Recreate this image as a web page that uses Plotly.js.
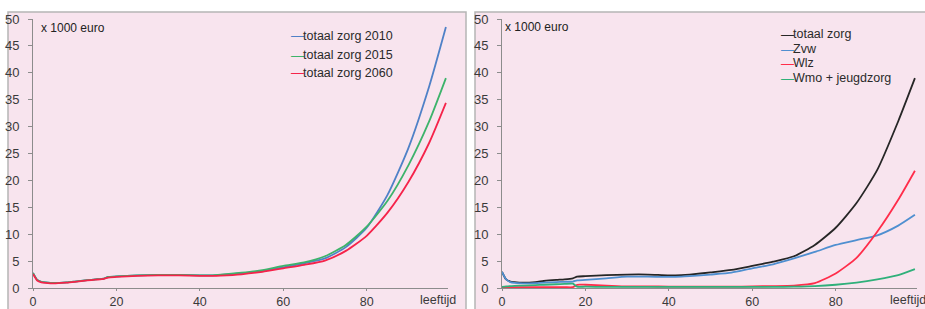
<!DOCTYPE html>
<html>
<head>
<meta charset="utf-8">
<script src="https://cdn.plot.ly/plotly-3.0.1.min.js"></script>
<style>html,body{margin:0;padding:0;background:#fff;}#chart{width:925px;height:309px;}</style>
</head>
<body>
<div id="chart"></div>
<script>
// ---- data (x 1000 euro per age) ----
const ages = [0,1,2,3,5,8,10,13,15,17,18,20,25,30,35,40,43,45,50,55,60,65,70,75,80,85,90,95,99];

const leftNames = ["totaal zorg 2010","totaal zorg 2015","totaal zorg 2060"];
const zorg2010 = [2.8,1.5,1.15,1.05,0.95,1.05,1.2,1.45,1.6,1.75,2.05,2.15,2.35,2.45,2.45,2.35,2.35,2.45,2.75,3.15,3.85,4.6,5.5,7.6,11.2,17.3,26,37.5,48.5];
const zorg2015 = [2.8,1.5,1.15,1.05,0.95,1.05,1.2,1.45,1.6,1.75,2.05,2.15,2.35,2.45,2.45,2.35,2.35,2.5,2.85,3.3,4.1,4.75,5.9,8.0,11.4,16.2,22.8,31,39];
const zorg2060 = [2.6,1.4,1.05,0.95,0.85,1.0,1.15,1.4,1.55,1.7,1.95,2.05,2.25,2.35,2.35,2.25,2.25,2.3,2.55,3.0,3.65,4.3,5.1,6.9,9.7,14,19.7,27,34.4];

const rightNames = ["totaal zorg","Zvw","Wlz","Wmo + jeugdzorg"];
const totaal = [3.0,1.6,1.2,1.1,1.0,1.1,1.3,1.5,1.6,1.8,2.1,2.2,2.4,2.5,2.5,2.35,2.4,2.5,2.9,3.35,4.1,4.9,5.9,8.0,11.2,15.8,22,31,39];
const zvw    = [3.0,1.6,1.1,0.95,0.85,0.9,1.0,1.1,1.15,1.2,1.4,1.5,1.8,2.1,2.1,2.05,2.1,2.2,2.5,2.85,3.65,4.4,5.5,6.7,8.0,8.9,9.8,11.6,13.6];
const wlz    = [0.15,0.15,0.15,0.15,0.15,0.15,0.15,0.15,0.15,0.15,0.6,0.6,0.45,0.3,0.3,0.25,0.25,0.25,0.25,0.25,0.3,0.35,0.45,0.9,2.7,5.6,10.5,16.4,21.8];
const wmo    = [0.2,0.3,0.35,0.4,0.45,0.55,0.6,0.7,0.75,0.8,0.25,0.25,0.2,0.2,0.2,0.2,0.2,0.2,0.2,0.2,0.2,0.2,0.25,0.35,0.6,1.0,1.6,2.4,3.5];

const yTicks = [0,5,10,15,20,25,30,35,40,45,50];
const xTicks = [0,20,40,60,80];
const unitLabel = "x 1000 euro";
const xLabel = "leeftijd";

// ---- styling ----
const leftColors = ["#4f81c7","#3db36b","#f5234a"];
const rightColors = ["#262626","#4f8fd0","#ff2d4a","#2fb07a"];
const pink = "#f8e4ee";
const W = 925, H = 309;
const px = v => v / W, py = v => (H - v) / H;

const leftSeries = [zorg2010, zorg2015, zorg2060];
const rightSeries = [totaal, zvw, wlz, wmo];

const traces = [];
leftSeries.forEach((s, i) => traces.push({
  x: ages, y: s, name: leftNames[i], type: "scatter", mode: "lines",
  line: {color: leftColors[i], width: 1.8, shape: "spline", smoothing: 0.6},
  xaxis: "x", yaxis: "y", showlegend: false, hoverinfo: "skip"
}));
rightSeries.forEach((s, i) => traces.push({
  x: ages, y: s, name: rightNames[i], type: "scatter", mode: "lines",
  line: {color: rightColors[i], width: 1.8, shape: "spline", smoothing: 0.6},
  xaxis: "x2", yaxis: "y2", showlegend: false, hoverinfo: "skip"
}));

const fam = "Liberation Sans, Arial, sans-serif";
const tickFont = {family: fam, size: 13, color: "#3a3a3a"};
const xTickFont = {family: fam, size: 12.5, color: "#3a3a3a"};
const xBase = {
  range: [0, 99.5], tickvals: xTicks, ticktext: xTicks.map(String),
  showgrid: false, zeroline: false, showline: true, linecolor: "#8c8c8c", linewidth: 1,
  ticks: "outside", ticklen: 2, tickcolor: "#8c8c8c", tickfont: xTickFont, ticklabelstandoff: 0
};
const yBase = {
  range: [0, 50], tickvals: yTicks, ticktext: yTicks.map(String),
  showgrid: false, zeroline: false, showline: true, linecolor: "#8c8c8c", linewidth: 1,
  ticks: "outside", ticklen: 4, tickcolor: "#8c8c8c", tickfont: tickFont, ticklabelstandoff: 6
};
const ydom = [21 / H, 290 / H];

const annotations = [
  {xref: "paper", yref: "paper", x: px(39), y: py(28), xanchor: "left", yanchor: "middle",
   text: unitLabel, showarrow: false, font: {family: fam, size: 12, color: "#222222"}},
  {xref: "paper", yref: "paper", x: px(503), y: py(27), xanchor: "left", yanchor: "middle",
   text: unitLabel, showarrow: false, font: {family: fam, size: 12, color: "#222222"}},
  {xref: "x", yref: "paper", x: 97, y: py(300), xanchor: "center", yanchor: "middle",
   text: xLabel, showarrow: false, font: xTickFont},
  {xref: "x2", yref: "paper", x: 97.3, y: py(300), xanchor: "center", yanchor: "middle",
   text: xLabel, showarrow: false, font: xTickFont}
];
function addLegend(names, colors, xs, ys) {
  names.forEach((n, i) => {
    annotations.push({
      xref: "paper", yref: "paper", x: px(xs), y: py(ys[i]), xanchor: "left", yanchor: "middle",
      showarrow: false, borderpad: 0, text: "\u2014",
      font: {family: fam, size: 13, color: colors[i]}
    });
    annotations.push({
      xref: "paper", yref: "paper", x: px(xs + 12), y: py(ys[i]), xanchor: "left", yanchor: "middle",
      showarrow: false, borderpad: 0, text: n,
      font: {family: fam, size: 12.5, color: "#2a2a2a"}
    });
  });
}
addLegend(leftNames, leftColors, 290, [36, 55, 73]);
addLegend(rightNames, rightColors, 780, [34.3, 49, 63.5, 78.2]);

const layout = {
  width: W, height: H,
  margin: {l: 0, r: 0, t: 0, b: 0},
  paper_bgcolor: "#ffffff", plot_bgcolor: "rgba(0,0,0,0)",
  showlegend: false,
  xaxis: Object.assign({}, xBase, {domain: [33 / W, 448 / W], anchor: "y"}),
  yaxis: Object.assign({}, yBase, {domain: ydom, anchor: "x"}),
  xaxis2: Object.assign({}, xBase, {domain: [502 / W, 917 / W], anchor: "y2"}),
  yaxis2: Object.assign({}, yBase, {domain: ydom, anchor: "x2"}),
  shapes: [
    {type: "rect", xref: "paper", yref: "paper", x0: px(8), x1: px(466), y0: py(312), y1: py(12),
     fillcolor: pink, line: {color: "#b5b5b5", width: 1.5}, layer: "below"},
    {type: "rect", xref: "paper", yref: "paper", x0: px(475), x1: px(930), y0: py(312), y1: py(12),
     fillcolor: pink, line: {color: "#b5b5b5", width: 1.5}, layer: "below"}
  ],
  annotations: annotations
};

Plotly.newPlot("chart", traces, layout, {staticPlot: true, displayModeBar: false});
</script>
</body>
</html>
